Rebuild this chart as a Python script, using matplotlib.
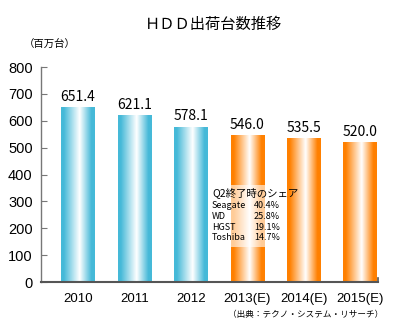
import matplotlib
matplotlib.use("Agg")
import matplotlib.pyplot as plt
import numpy as np
from matplotlib.colors import LinearSegmentedColormap, to_rgb

years = ["2010", "2011", "2012", "2013(E)", "2014(E)", "2015(E)"]
values = [651.4, 621.1, 578.1, 546.0, 535.5, 520.0]
estimated = [False, False, False, True, True, True]
share_title = "Q2終了時のシェア"
share_names = ["Seagate", "WD", "HGST", "Toshiba"]
share_values = ["40.4%", "25.8%", "19.1%", "14.7%"]

jp = ["Noto Sans CJK JP", "DejaVu Sans"]
num_font = ["Liberation Sans", "DejaVu Sans"]

fig = plt.figure(figsize=(4.0, 3.32), dpi=100)
ax = fig.add_axes([0.1025, 0.1506, 0.8425, 0.6474])

x = np.arange(len(years))
bars = ax.bar(x, values, width=0.59, color="none", edgecolor="none", zorder=2)

blue = "#45b9d8"
orange = "#ff8000"
for b, est in zip(bars, estimated):
    c = np.array(to_rgb(orange if est else blue))
    w = np.array([1.0, 1.0, 1.0])
    cmap = LinearSegmentedColormap.from_list(
        "g", [(0.0, c), (0.08, c), (0.55, w), (0.9, c), (1.0, c)])
    grad = np.linspace(0, 1, 200).reshape(1, -1)
    im = ax.imshow(grad, cmap=cmap, aspect="auto",
                   extent=(b.get_x(), b.get_x() + b.get_width(), 0, b.get_height()),
                   zorder=2, interpolation="bilinear")
    im.set_clip_path(b)

for xi, v in zip(x, values):
    ax.annotate(f"{v:.1f}", (xi, v), xytext=(0, 4.5), textcoords="offset points",
                ha="center", va="baseline", fontsize=10, family=jp, zorder=4)

ax.set_xlim(-0.656, 5.32)
ax.set_ylim(0, 800)
ax.set_yticks(np.arange(0, 801, 100))
ax.set_xticks(x)
ax.set_xticklabels(years, family=num_font, fontsize=9.5)
for lab in ax.get_yticklabels():
    lab.set_family(num_font)
    lab.set_fontsize(10.5)

for s in ["top", "right"]:
    ax.spines[s].set_visible(False)
ax.spines["left"].set_color("#777777")
ax.spines["left"].set_linewidth(1.0)
ax.spines["bottom"].set_color("#555555")
ax.spines["bottom"].set_linewidth(1.5)
ax.tick_params(axis="y", direction="in", length=4, color="#777777", pad=6)
ax.tick_params(axis="x", length=0, pad=8)
ax.plot([1, 1], [0, 0.02], transform=ax.transAxes, color="#555555",
        lw=1.2, clip_on=False, zorder=5)

# share annotation box
ax.add_patch(plt.Rectangle((209 / 400, 85 / 332), 75 / 400, 62 / 332,
                           transform=fig.transFigure, facecolor="white",
                           alpha=0.6, edgecolor="none", zorder=3))
fig.text(212 / 400, 1 - 193 / 332, share_title, fontsize=7.5, family=jp,
         va="center", ha="left", zorder=6)
for i, (n, s) in enumerate(zip(share_names, share_values)):
    yy = 1 - (206 + 10.5 * i) / 332
    fig.text(212 / 400, yy, n, fontsize=6.5, family=jp, va="center", ha="left")
    fig.text(280 / 400, yy, s, fontsize=6.5, family=jp, va="center", ha="right")

fig.text(0.533, 1 - 24 / 332, "ＨＤＤ出荷台数推移", fontsize=11, family=jp,
         ha="center", va="center")
fig.text(49.5 / 400, 1 - 45 / 332, "（百万台）", fontsize=7.5, family=jp,
         ha="center", va="center")
fig.text(383 / 400, 1 - 314 / 332, "（出典：テクノ・システム・リサーチ）",
         fontsize=6.2, family=jp, ha="right", va="center")

fig.savefig("out.png", dpi=100)
